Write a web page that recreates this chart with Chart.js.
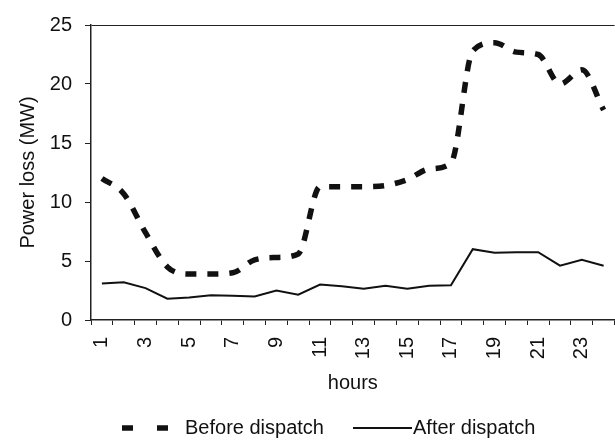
<!DOCTYPE html>
<html lang="en">
<head>
<meta charset="UTF-8">
<title>Power loss before and after dispatch</title>
<script src="https://cdn.jsdelivr.net/npm/chart.js"></script>
<style>
  html, body { margin: 0; padding: 0; background: #fff; overflow: hidden; }
  #wrap { width: 615px; height: 440px; overflow: hidden; }
  canvas { display: block; }
</style>
</head>
<body>
<div id="wrap">
  <canvas id="lossChart" width="640" height="440"></canvas>
</div>
<script>
  const hours = ['1', '2', '3', '4', '5', '6', '7', '8', '9', '10', '11', '12',
                 '13', '14', '15', '16', '17', '18', '19', '20', '21', '22', '23', '24'];
  const beforeDispatch = [12.0, 10.7, 7.4, 4.5, 3.9, 3.9, 4.0, 5.1, 5.3, 5.6, 11.3, 11.3,
                          11.3, 11.4, 11.9, 12.8, 13.3, 22.8, 23.5, 22.7, 22.5, 20.0, 21.2, 17.8];
  const afterDispatch = [3.1, 3.2, 2.7, 1.8, 1.9, 2.1, 2.05, 2.0, 2.5, 2.15, 3.0, 2.85,
                         2.65, 2.9, 2.65, 2.9, 2.95, 6.0, 5.7, 5.75, 5.75, 4.6, 5.1, 4.6];
  const yMin = 0, yMax = 25, yStep = 5;

  const ink = '#111';
  Chart.defaults.font.family = '"Liberation Sans", Arial, sans-serif';
  Chart.defaults.font.size = 20;
  Chart.defaults.color = ink;

  // legend under the axis title, drawn by hand (samples have different widths)
  const bottomLegend = {
    id: 'bottomLegend',
    afterDraw(chart) {
      const ctx = chart.ctx;
      const y = 428;
      const items = [
        { ds: chart.data.datasets[0], x0: 122, x1: 169, dash: [11, 24], tx: 185 },
        { ds: chart.data.datasets[1], x0: 353, x1: 412, dash: [], tx: 413 }
      ];
      ctx.save();
      items.forEach(it => {
        ctx.beginPath();
        ctx.setLineDash(it.dash);
        ctx.lineWidth = it.ds.borderWidth;
        ctx.strokeStyle = it.ds.borderColor;
        ctx.moveTo(it.x0, y);
        ctx.lineTo(it.x1, y);
        ctx.stroke();
        ctx.setLineDash([]);
        ctx.fillStyle = ink;
        ctx.font = '20px "Liberation Sans", Arial, sans-serif';
        ctx.textAlign = 'left';
        ctx.textBaseline = 'middle';
        ctx.fillText(it.ds.label, it.tx, y);
      });
      ctx.restore();
    }
  };

  new Chart(document.getElementById('lossChart'), {
    type: 'line',
    data: {
      labels: hours,
      datasets: [
        {
          label: 'Before dispatch',
          data: beforeDispatch,
          borderColor: ink,
          borderWidth: 5.5,
          borderDash: [11, 11],
          borderCapStyle: 'butt',
          cubicInterpolationMode: 'monotone', // smoothed, without overshoot
          pointRadius: 0,
          fill: false
        },
        {
          label: 'After dispatch',
          data: afterDispatch,
          borderColor: ink,
          borderWidth: 2,
          tension: 0,
          pointRadius: 0,
          fill: false
        }
      ]
    },
    options: {
      responsive: false,
      animation: false,
      layout: { padding: { top: 21, right: 17, bottom: 40, left: 0 } },
      plugins: {
        legend: { display: false },
        tooltip: { enabled: false }
      },
      scales: {
        x: {
          offset: true,
          afterFit: s => { s.height = 80; },
          grid: { offset: true, color: 'rgba(0,0,0,0)', tickColor: '#222', tickLength: 5 },
          border: { display: true, color: '#222', width: 1.5 },
          ticks: {
            autoSkip: false,
            maxRotation: 90,
            minRotation: 90,
            padding: 12,
            callback: (v, i) => (i % 2 === 0 ? hours[i] : '')
          },
          title: { display: true, text: 'hours', padding: { top: 0, bottom: 5 } }
        },
        y: {
          min: yMin,
          max: yMax,
          afterFit: s => { s.width = 91; },
          grid: {
            color: c => (c.tick && c.tick.value === yMax ? '#222' : 'rgba(0,0,0,0)'),
            tickColor: '#222',
            tickLength: 6
          },
          border: { display: true, color: '#222', width: 1.5 },
          ticks: { stepSize: yStep, padding: 13 },
          title: { display: true, text: 'Power loss (MW)', padding: { top: 16, bottom: 0 } }
        }
      }
    },
    plugins: [bottomLegend]
  });
</script>
</body>
</html>
